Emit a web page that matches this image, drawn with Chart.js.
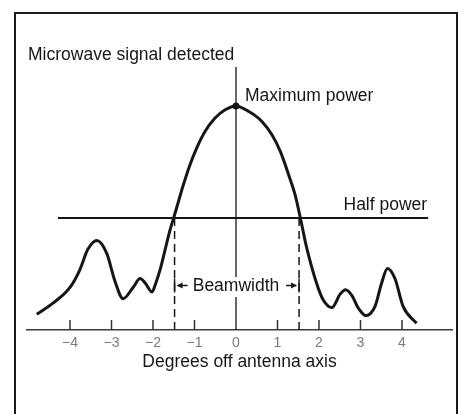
<!DOCTYPE html>
<html lang="en">
<head>
    <meta charset="UTF-8">
    <title>Antenna beam pattern</title>
    <script src="https://cdn.jsdelivr.net/npm/chart.js"></script>
    <style>
        body {
            margin: 0;
            background: white;
        }

        .figure {
            position: relative;
            width: 464px;
            height: 414px;
            overflow: hidden;
        }

        /* the box around the figure runs off the bottom of the page */
        .frame {
            position: absolute;
            left: 14px;
            top: 12px;
            width: 440px;
            height: 430px;
            border: 2px solid #1a1a1a;
        }

        canvas {
            position: absolute;
            left: 0;
            top: 0;
        }
    </style>
</head>
<body>
    <div class="figure">
        <div class="frame"></div>
        <canvas id="beamChart" width="464" height="414"></canvas>
    </div>

    <script>
        // Degrees off antenna axis and the relative signal power there
        const angles = [-4.80, -4.41, -4.00, -3.76, -3.57, -3.35, -3.11, -2.92, -2.72, -2.48, -2.31, -2.19, -2.02,
                        -1.95, -1.83, -1.71, -1.59, -1.47, -1.27, -1.11, -0.95, -0.75, -0.51, -0.27, 0,
                        0.31, 0.63, 0.87, 1.07, 1.27, 1.43, 1.57, 1.70, 1.94, 2.10,
                        2.31, 2.51, 2.64, 2.79, 2.95, 3.13, 3.35, 3.51, 3.65, 3.83, 4.03, 4.35];
        const power = [0.07, 0.12, 0.19, 0.27, 0.36, 0.40, 0.34, 0.22, 0.14, 0.19, 0.23, 0.21, 0.17,
                       0.20, 0.268, 0.357, 0.446, 0.52, 0.647, 0.737, 0.811, 0.885, 0.945, 0.982, 1.0,
                       0.975, 0.93, 0.87, 0.796, 0.692, 0.60, 0.483, 0.37, 0.21, 0.135,
                       0.10, 0.16, 0.18, 0.155, 0.097, 0.064, 0.105, 0.21, 0.275, 0.23, 0.104, 0.03];

        const tickValues = [-4, -3, -2, -1, 0, 1, 2, 3, 4];
        const halfPower = 0.5;
        const halfPowerSpan = [-4.29, 4.63];
        const beamEdges = [-1.48, 1.52];
        const maxPower = 1.0;

        const X_MIN = -5.036, X_MAX = 5.205, Y_MAX = 1.174;
        const ink = '#161616';

        Chart.defaults.font.family = "'Liberation Sans', Arial, sans-serif";

        // labels, inward tick marks and the beamwidth callout
        const annotations = {
            id: 'annotations',
            afterDatasetsDraw(chart) {
                const { ctx, chartArea, scales: { x, y } } = chart;
                ctx.save();

                ctx.strokeStyle = '#333';
                ctx.lineWidth = 1.5;
                tickValues.forEach(v => {
                    if (v === 0) return;
                    const px = x.getPixelForValue(v);
                    ctx.beginPath();
                    ctx.moveTo(px, chartArea.bottom);
                    ctx.lineTo(px, chartArea.bottom - 10);
                    ctx.stroke();
                });

                ctx.fillStyle = ink;
                ctx.font = "17.5px 'Liberation Sans', Arial, sans-serif";
                ctx.textBaseline = 'alphabetic';

                ctx.textAlign = 'left';
                ctx.fillText('Microwave signal detected', chartArea.left + 1, chartArea.top - 7);
                ctx.fillText('Maximum power', x.getPixelForValue(0) + 9, y.getPixelForValue(maxPower) - 5);

                ctx.textAlign = 'right';
                ctx.fillText('Half power', x.getPixelForValue(halfPowerSpan[1]) - 1, y.getPixelForValue(halfPower) - 8);

                // Beamwidth text sits on a white patch over the centre line
                const base = chartArea.bottom - 39;
                const left = x.getPixelForValue(beamEdges[0]);
                const right = x.getPixelForValue(beamEdges[1]);
                const cx = x.getPixelForValue(0);
                const w = ctx.measureText('Beamwidth').width;
                ctx.fillStyle = 'white';
                ctx.fillRect(cx - w / 2 - 3, base - 14, w + 6, 20);
                ctx.fillStyle = ink;
                ctx.textAlign = 'center';
                ctx.fillText('Beamwidth', cx, base);

                const mid = base - 5.5;
                ctx.lineWidth = 1.5;
                ctx.strokeStyle = ink;
                [[left, 1], [right, -1]].forEach(([bx, dir]) => {
                    ctx.beginPath();
                    ctx.moveTo(bx, mid - 7);
                    ctx.lineTo(bx, mid + 7);
                    ctx.moveTo(bx + dir * 3, mid);
                    ctx.lineTo(bx + dir * 13, mid);
                    ctx.stroke();
                    ctx.beginPath();
                    ctx.moveTo(bx + dir * 2, mid);
                    ctx.lineTo(bx + dir * 8, mid - 3);
                    ctx.lineTo(bx + dir * 8, mid + 3);
                    ctx.closePath();
                    ctx.fill();
                });

                ctx.restore();
            }
        };

        const segment = (x1, y1, x2, y2, extra) => Object.assign({
            data: [{ x: x1, y: y1 }, { x: x2, y: y2 }],
            borderColor: ink,
            pointRadius: 0,
            tension: 0
        }, extra);

        new Chart(document.getElementById('beamChart'), {
            type: 'line',
            data: {
                datasets: [
                    {
                        data: angles.map((a, i) => ({ x: a, y: power[i] })),
                        borderColor: ink,
                        borderWidth: 3,
                        pointRadius: 0,
                        cubicInterpolationMode: 'monotone'
                    },
                    segment(halfPowerSpan[0], halfPower, halfPowerSpan[1], halfPower, { borderWidth: 2 }),
                    segment(0, 0, 0, Y_MAX, { borderWidth: 1.3 }),
                    segment(beamEdges[0], halfPower, beamEdges[0], 0, { borderWidth: 1.5, borderDash: [8, 5] }),
                    segment(beamEdges[1], halfPower, beamEdges[1], 0, { borderWidth: 1.5, borderDash: [8, 5] }),
                    {
                        data: [{ x: 0, y: maxPower }],
                        showLine: false,
                        pointRadius: 3.5,
                        pointBackgroundColor: ink,
                        pointBorderWidth: 0
                    }
                ]
            },
            options: {
                responsive: false,
                animation: false,
                layout: { padding: { left: 27, right: 12, top: 67, bottom: 0 } },
                plugins: {
                    legend: { display: false },
                    tooltip: { enabled: false }
                },
                scales: {
                    x: {
                        type: 'linear',
                        min: X_MIN,
                        max: X_MAX,
                        afterBuildTicks: scale => { scale.ticks = tickValues.map(v => ({ value: v })); },
                        afterFit: scale => { scale.height = 84; },
                        grid: { display: false, drawTicks: false },
                        border: { display: true, color: '#3a3a3a', width: 1.5 },
                        ticks: {
                            padding: 5,
                            color: '#7a7a7a',
                            font: { size: 14 },
                            autoSkip: false,
                            maxRotation: 0,
                            callback: v => (v < 0 ? '\u2212' : '') + Math.abs(v)
                        },
                        title: {
                            display: true,
                            text: 'Degrees off antenna axis',
                            color: ink,
                            font: { size: 17.5 },
                            padding: { top: 4, bottom: 41 }
                        }
                    },
                    y: {
                        display: false,
                        min: 0,
                        max: Y_MAX
                    }
                }
            },
            plugins: [annotations]
        });
    </script>
</body>
</html>
